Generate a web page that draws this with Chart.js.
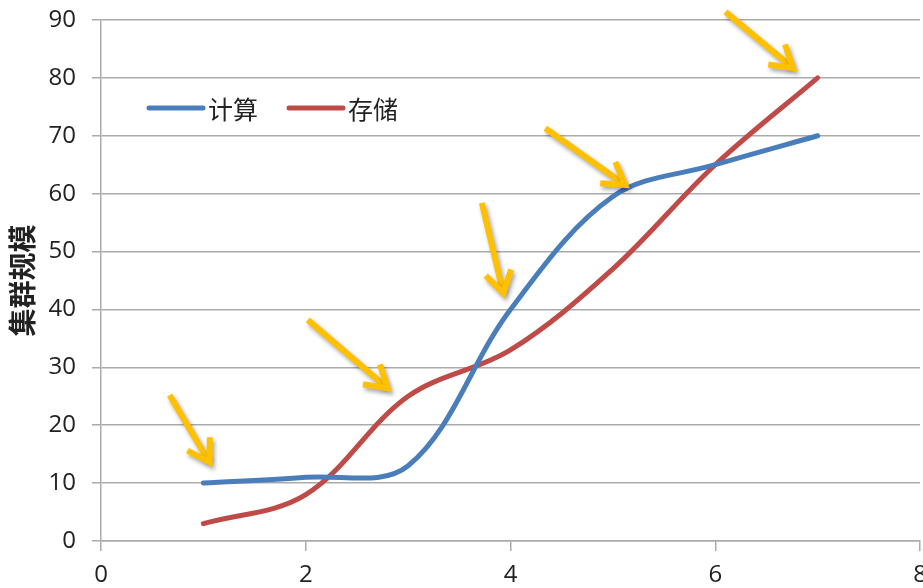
<!DOCTYPE html>
<html>
<head>
<meta charset="utf-8">
<script src="https://cdn.jsdelivr.net/npm/chart.js@4"></script>
<style>
  html, body { margin:0; padding:0; background:#fff; }
  #wrap { width:923px; height:588px; }
</style>
</head>
<body>
<div id="wrap"><canvas id="chart" width="923" height="588"></canvas></div>
<script>
// ─── data ────────────────────────────────────────────────────────────────────
const xValues     = [1, 2, 3, 4, 5, 6, 7];
const computeVals = [10, 11, 13, 40, 59.5, 65, 70];   // 计算
const storageVals = [3, 8, 25, 33, 47, 65, 80];       // 存储
const seriesNames = ['计算', '存储'];
const xTicks      = [0, 2, 4, 6, 8];
const yTicks      = [0, 10, 20, 30, 40, 50, 60, 70, 80, 90];
const yTitle      = '集群规模';

// yellow arrows, tail -> tip in data units
const arrowTailX = [0.67, 2.02, 3.72, 4.34, 6.10];
const arrowTailY = [25.2, 38.2, 58.4, 71.3, 91.4];
const arrowTipX  = [1.06, 2.80, 3.93, 5.12, 6.76];
const arrowTipY  = [13.6, 26.4, 42.8, 61.5, 81.7];

const BLUE = '#4a7ebb';
const RED  = '#be4b48';
const GRID = '#ababab';
const TXT  = '#222';
const NUM_FONT = '"Open Sans", "Noto Sans", sans-serif';
const CJK_FONT = '"Noto Sans CJK SC", sans-serif';

const pts = vals => xValues.map((x, i) => ({ x, y: vals[i] }));

// ── legend inside the plot ───────────────────────────────────────────────────
const insideLegend = {
  id: 'insideLegend',
  afterDatasetsDraw(chart) {
    const { ctx, chartArea } = chart;
    const y = chartArea.top + 88;
    let x = chartArea.left + 48;
    ctx.save();
    ctx.font = '25px ' + CJK_FONT;
    ctx.textBaseline = 'middle';
    chart.data.datasets.forEach(ds => {
      ctx.strokeStyle = ds.borderColor;
      ctx.lineWidth = 5;
      ctx.lineCap = 'round';
      ctx.beginPath();
      ctx.moveTo(x, y);
      ctx.lineTo(x + 54, y);
      ctx.stroke();
      ctx.fillStyle = TXT;
      ctx.fillText(ds.label, x + 59, y + 1);
      x += 140;
    });
    ctx.restore();
  }
};

// ── arrows ───────────────────────────────────────────────────────────────────
const arrows = {
  id: 'arrows',
  afterDatasetsDraw(chart) {
    const { ctx, scales } = chart;
    ctx.save();
    ctx.strokeStyle = '#ffc000';
    ctx.lineWidth = 6;
    ctx.lineCap = 'butt';
    ctx.lineJoin = 'miter';
    ctx.shadowColor = 'rgba(0,0,0,0.35)';
    ctx.shadowBlur = 4;
    ctx.shadowOffsetX = 2;
    ctx.shadowOffsetY = 3;
    arrowTailX.forEach((_, i) => {
      const x1 = scales.x.getPixelForValue(arrowTailX[i]);
      const y1 = scales.y.getPixelForValue(arrowTailY[i]);
      const x2 = scales.x.getPixelForValue(arrowTipX[i]);
      const y2 = scales.y.getPixelForValue(arrowTipY[i]);
      const a = Math.atan2(y2 - y1, x2 - x1);
      const h = 25, s = 0.55;
      ctx.beginPath();
      ctx.moveTo(x1, y1);
      ctx.lineTo(x2 - 3 * Math.cos(a), y2 - 3 * Math.sin(a));
      ctx.stroke();
      ctx.beginPath();
      ctx.moveTo(x2 - h * Math.cos(a - s), y2 - h * Math.sin(a - s));
      ctx.lineTo(x2, y2);
      ctx.lineTo(x2 - h * Math.cos(a + s), y2 - h * Math.sin(a + s));
      ctx.stroke();
    });
    ctx.restore();
  }
};

new Chart(document.getElementById('chart'), {
  type: 'line',
  data: {
    datasets: [
      { label: seriesNames[0], data: pts(computeVals), borderColor: BLUE, backgroundColor: BLUE },
      { label: seriesNames[1], data: pts(storageVals), borderColor: RED,  backgroundColor: RED }
    ]
  },
  options: {
    responsive: false,
    animation: false,
    layout: { padding: { top: 20, right: 3, bottom: 0, left: 0 } },
    elements: {
      line: { borderWidth: 5, tension: 0.35, borderCapStyle: 'round', borderJoinStyle: 'round', fill: false },
      point: { radius: 0, hoverRadius: 0 }
    },
    plugins: {
      legend: { display: false },
      tooltip: { enabled: false }
    },
    scales: {
      x: {
        type: 'linear', min: 0, max: 8,
        afterBuildTicks: s => { s.ticks = xTicks.map(v => ({ value: v })); },
        afterFit: s => { s.height = 47; s.paddingLeft = 0; s.paddingRight = 0; },
        grid: { drawOnChartArea: false, drawTicks: true, tickLength: 10, color: GRID, lineWidth: 1.5 },
        border: { display: true, color: GRID, width: 1.5 },
        ticks: { color: TXT, padding: 10, font: { family: NUM_FONT, size: 24 }, maxRotation: 0 }
      },
      y: {
        min: 0, max: 90,
        afterBuildTicks: s => { s.ticks = yTicks.map(v => ({ value: v })); },
        afterFit: s => { s.width = 101; s.paddingTop = 0; s.paddingBottom = 0; },
        grid: { color: GRID, lineWidth: 1.5, tickLength: 9 },
        border: { display: true, color: GRID, width: 1.5 },
        ticks: { color: TXT, padding: 16, font: { family: NUM_FONT, size: 24 } },
        title: {
          display: true, text: yTitle, color: TXT,
          font: { family: CJK_FONT, size: 28, weight: 'bold' },
          padding: { top: 6, bottom: 0 }
        }
      }
    }
  },
  plugins: [insideLegend, arrows]
});
</script>
</body>
</html>
